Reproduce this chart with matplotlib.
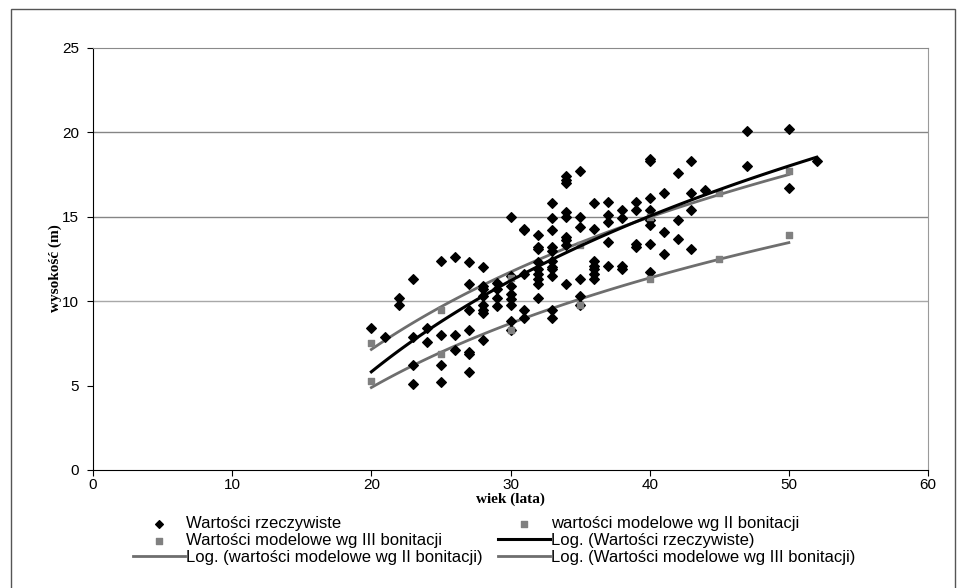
"""
Wysokość drzew w zależności od wieku - wartości rzeczywiste i modelowe
"""

import matplotlib.pyplot as plt
import matplotlib.patches as mpatches
import numpy as np

# Wartości rzeczywiste (wiek, wysokość)
wiek_rz = [20, 21, 22, 22, 23, 23, 23, 23, 24, 24,
           25, 25, 25, 25, 26, 26, 26,
           27, 27, 27, 27, 27, 27, 27,
           28, 28, 28, 28, 28, 28, 28, 28,
           29, 29, 29, 29,
           30, 30, 30, 30, 30, 30, 30, 30,
           31, 31, 31, 31, 31,
           32, 32, 32, 32, 32, 32, 32, 32, 32,
           33, 33, 33, 33, 33, 33, 33, 33, 33, 33, 33,
           34, 34, 34, 34, 34, 34, 34, 34, 34,
           35, 35, 35, 35, 35, 35,
           36, 36, 36, 36, 36, 36, 36,
           37, 37, 37, 37, 37,
           38, 38, 38, 38,
           39, 39, 39, 39,
           40, 40, 40, 40, 40, 40, 40, 40,
           41, 41, 41,
           42, 42, 42,
           43, 43, 43, 43,
           44, 47, 47, 50, 50, 52]
wys_rz = [8.4, 7.9, 10.2, 9.8, 11.3, 7.9, 6.2, 5.1, 8.4, 7.6,
          12.4, 8.0, 6.2, 5.2, 12.6, 8.0, 7.1,
          12.3, 11.0, 9.5, 8.3, 7.0, 6.9, 5.8,
          12.0, 10.9, 10.7, 10.3, 9.8, 9.5, 9.3, 7.7,
          11.1, 10.7, 10.2, 9.7,
          15.0, 11.5, 10.9, 10.4, 10.1, 9.8, 8.8, 8.3,
          14.3, 14.2, 11.6, 9.5, 9.0,
          13.9, 13.2, 13.1, 12.3, 11.9, 11.6, 11.3, 11.0, 10.2,
          15.8, 14.9, 14.2, 13.2, 13.0, 12.4, 12.0, 11.9, 11.5, 9.5, 9.0,
          17.4, 17.2, 17.0, 15.3, 15.0, 13.8, 13.6, 13.3, 11.0,
          17.7, 15.0, 14.4, 11.3, 10.3, 9.8,
          15.8, 14.3, 12.4, 12.1, 11.9, 11.6, 11.3,
          15.9, 15.1, 14.7, 13.5, 12.1,
          15.4, 14.9, 12.1, 11.9,
          15.9, 15.4, 13.4, 13.2,
          18.4, 18.3, 16.1, 15.4, 14.8, 14.5, 13.4, 11.7,
          16.4, 14.1, 12.8,
          17.6, 14.8, 13.7,
          18.3, 16.4, 15.4, 13.1,
          16.6, 20.1, 18.0, 20.2, 16.7, 18.3]

# Wartości modelowe (tablice zasobności)
wiek_mod = [20, 25, 30, 35, 40, 45, 50]
wys_II = [7.5, 9.5, 11.4, 13.3, 15.0, 16.4, 17.7]
wys_III = [5.3, 6.9, 8.3, 9.8, 11.3, 12.5, 13.9]

wiek_rz = np.array(wiek_rz)
wys_rz = np.array(wys_rz)

# Trendy logarytmiczne y = a*ln(x) + b (jak w Excelu)
def trend_log(x, y):
    a, b = np.polyfit(np.log(x), y, 1)
    xs = np.linspace(min(x), max(x), 100)
    return xs, a * np.log(xs) + b

fig = plt.figure(figsize=(9.58, 5.88), dpi=100)
ax = fig.add_axes([0.0971, 0.2007, 0.8716, 0.7177])

szary = '#808080'

# Linie siatki (tylko 10, 15, 20)
for yy, kol in [(10, '#a8a8a8'), (15, '#858585'), (20, '#858585')]:
    ax.axhline(yy, color=kol, linewidth=1.0, zorder=0)

h_rz = ax.scatter(wiek_rz, wys_rz, marker='D', s=24, color='black', zorder=3,
                  label='Wartości rzeczywiste')
h_II = ax.scatter(wiek_mod, wys_II, marker='s', s=22, color=szary, zorder=3,
                  label='wartości modelowe wg II bonitacji')
h_III = ax.scatter(wiek_mod, wys_III, marker='s', s=22, color=szary, zorder=3,
                   label='Wartości modelowe wg III bonitacji')

xs, ys = trend_log(wiek_rz, wys_rz)
l_rz, = ax.plot(xs, ys, color='black', linewidth=2.2, zorder=4,
                label='Log. (Wartości rzeczywiste)')
xs, ys = trend_log(wiek_mod, wys_II)
l_II, = ax.plot(xs, ys, color='#6e6e6e', linewidth=2.0, zorder=2,
                label='Log. (wartości modelowe wg II bonitacji)')
xs, ys = trend_log(wiek_mod, wys_III)
l_III, = ax.plot(xs, ys, color='#6e6e6e', linewidth=2.0, zorder=2,
                 label='Log. (Wartości modelowe wg III bonitacji)')

ax.set_xlim(0, 60)
ax.set_ylim(0, 25)
ax.set_xticks(range(0, 61, 10))
ax.set_yticks(range(0, 26, 5))
ax.tick_params(direction='out', length=4, width=0.8, labelsize=11)
ax.tick_params(axis='x', pad=2)
ax.tick_params(axis='y', pad=6)
for lab in ax.get_xticklabels() + ax.get_yticklabels():
    lab.set_family('Liberation Sans')

ax.spines['left'].set_color('black')
ax.spines['bottom'].set_color('black')
ax.spines['top'].set_color('#8a8a8a')
ax.spines['right'].set_color('#9a9a9a')

ax.set_xlabel('wiek (lata)', fontsize=11, fontweight='bold',
              family='Liberation Serif', labelpad=0)
ax.set_ylabel('wysokość (m)', fontsize=11, fontweight='bold',
              family='Liberation Serif')
ax.yaxis.set_label_coords(-0.037, 0.479)

# Legenda - kolejność jak w Excelu (wierszami, 2 kolumny)
uchwyty = [h_rz, h_III, l_II, h_II, l_rz, l_III]
leg = fig.legend(handles=uchwyty, labels=[u.get_label() for u in uchwyty],
                 ncol=2, loc='upper center', bbox_to_anchor=(0.516, 0.139),
                 frameon=False, prop={'family': 'Liberation Sans', 'size': 12},
                 handlelength=3.1, handletextpad=0.1, columnspacing=0.9,
                 labelspacing=0.12, borderpad=0.1, markerscale=0.8)

# Ramka obszaru wykresu
fig.patches.append(mpatches.Rectangle((11 / 958, -0.01), 944 / 958, 1 - 9 / 588 + 0.01,
                                      transform=fig.transFigure, fill=False,
                                      edgecolor='#555555', linewidth=1.0))

plt.savefig('out.png', dpi=100)
